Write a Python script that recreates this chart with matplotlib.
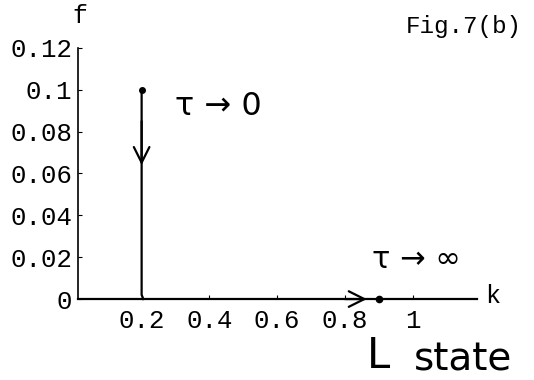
import matplotlib
matplotlib.use("Agg")
import matplotlib.pyplot as plt

# trajectory of the state in the (k, f) plane
path_k = [0.2, 0.2, 0.205]
path_f = [0.1, 0.002, 0.0]
start_point = (0.2, 0.1)
end_point = (0.90, 0.0)

x_ticks = [0.2, 0.4, 0.6, 0.8, 1.0]
x_labels = ["0.2", "0.4", "0.6", "0.8", "1"]
y_ticks = [0, 0.02, 0.04, 0.06, 0.08, 0.1, 0.12]
y_labels = ["0", "0.02", "0.04", "0.06", "0.08", "0.1", "0.12"]

mono = "Liberation Mono"
hand = "DejaVu Sans"

fig = plt.figure(figsize=(5.34, 3.80), dpi=100)
ax = fig.add_axes([0.146, 0.213, 0.747, 0.661])

ax.plot(path_k, path_f, color="black", lw=1.6, clip_on=False)
ax.plot(*start_point, "o", color="black", ms=4, clip_on=False)
ax.plot(*end_point, "o", color="black", ms=4.5, clip_on=False)

# direction arrows
arrow = dict(arrowstyle="->", lw=1.6, mutation_scale=28, color="black",
             shrinkA=0, shrinkB=0)
ax.annotate("", xy=(0.2, 0.064), xytext=(0.2, 0.085), arrowprops=arrow)
ax.annotate("", xy=(0.865, 0.0), xytext=(0.80, 0.0), arrowprops=arrow,
            annotation_clip=False)

ax.set_xlim(0.012, 1.19)
ax.set_ylim(0, 0.12)
ax.spines["top"].set_visible(False)
ax.spines["right"].set_visible(False)
ax.spines["left"].set_linewidth(1.2)
ax.spines["bottom"].set_linewidth(1.6)

ax.set_xticks(x_ticks)
ax.set_xticklabels(x_labels, fontfamily=mono, fontsize=18.5)
ax.set_yticks(y_ticks)
ax.set_yticklabels(y_labels, fontfamily=mono, fontsize=18.5)
ax.tick_params(direction="in", length=3, width=0.8)
ax.tick_params(axis="x", pad=7)
ax.tick_params(axis="y", pad=4)

# axis names
fig.text(80 / 534, 1 - 16 / 380, "f", fontfamily=mono, fontsize=18, ha="center", va="center")
fig.text(493 / 534, 1 - 296 / 380, "k", fontfamily=mono, fontsize=18, ha="center", va="center")
fig.text(464 / 534, 1 - 27 / 380, "Fig.7(b)", fontfamily=mono, fontsize=17.5, ha="center", va="center")

# handwritten notes
ax.text(0.30, 0.092, "τ → 0", fontfamily=hand, fontsize=23, ha="left", va="center")
ax.text(0.88, 0.019, "τ → ∞", fontfamily=hand, fontsize=22, ha="left", va="center")
ax.text(0.865, -0.027, "L", fontfamily=hand, fontsize=30, ha="left", va="center",
        clip_on=False)
ax.text(1.005, -0.029, "state", fontfamily=hand, fontsize=28, ha="left", va="center",
        clip_on=False)

fig.savefig("out.png", dpi=100)
